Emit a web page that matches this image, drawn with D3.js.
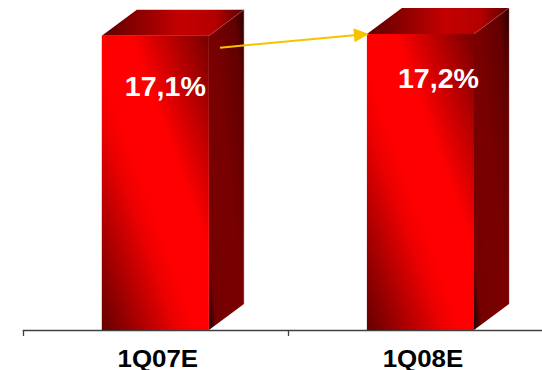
<!DOCTYPE html>
<html>
<head>
<meta charset="utf-8">
<script src="https://cdn.jsdelivr.net/npm/d3@7"></script>
<style>
  html, body { margin: 0; padding: 0; background: #ffffff; }
  svg { display: block; }
</style>
</head>
<body>
<script>
// ---- data ----
const categories = ["1Q07E", "1Q08E"];
const values = [17.1, 17.2];
const valueLabels = ["17,1%", "17,2%"];

// ---- layout ----
const W = 542, H = 370;
const baseY = 330;
const depthX = 35, depthY = -26;

const svg = d3.select("body").append("svg")
  .attr("width", W).attr("height", H);

const x = d3.scaleBand().domain(categories).range([22.8, 553]).padding(0);
const y = d3.scaleLinear().domain([0, 19.17]).range([baseY, 0]);
const barW = x.bandwidth() * 0.404;

const defs = svg.append("defs");
function grad(id, stops) {
  const g = defs.append("linearGradient").attr("id", id)
    .attr("x1", 0).attr("y1", 1).attr("x2", 1).attr("y2", 0);
  stops.forEach(s => g.append("stop").attr("offset", s[0]).attr("stop-color", s[1]));
}
grad("gFront", [[0, "#640000"], [0.36, "#ee0000"], [0.45, "#ff0000"], [0.63, "#ff0000"], [1, "#760000"]]);
grad("gSide", [[0, "#1a0000"], [0.12, "#740000"], [0.5, "#7a0000"], [0.85, "#620000"], [1, "#260000"]]);
const gt = defs.append("linearGradient").attr("id", "gTop")
  .attr("x1", 0).attr("y1", 0).attr("x2", 1).attr("y2", 0);
[[0, "#5e0000"], [0.55, "#c40000"], [0.8, "#b40000"], [1, "#5a0000"]]
  .forEach(s => gt.append("stop").attr("offset", s[0]).attr("stop-color", s[1]));

const data = categories.map((c, i) => ({ c, v: values[i], label: valueLabels[i], i }));

// ---- axis ----
const axis = svg.append("g");
axis.append("line")
  .attr("x1", x.range()[0]).attr("x2", W)
  .attr("y1", baseY + 0.5).attr("y2", baseY + 0.5)
  .attr("stroke", "#404040").attr("stroke-width", 1.3);
categories.forEach(c => {
  const tx = Math.round(x(c)) + 0.5;
  axis.append("line")
    .attr("x1", tx).attr("x2", tx)
    .attr("y1", baseY).attr("y2", baseY + 6)
    .attr("stroke", "#404040").attr("stroke-width", 1.3);
});

// ---- bars ----
const bars = svg.append("g").selectAll("g.bar").data(data).enter().append("g").attr("class", "bar");
bars.each(function(d) {
  const g = d3.select(this);
  const x0 = x(d.c) + (x.bandwidth() - barW) / 2;
  const x1 = x0 + barW;
  const yt = y(d.v);
  // side face
  g.append("path")
    .attr("d", `M${x1},${yt} L${x1 + depthX},${yt + depthY} L${x1 + depthX},${baseY + depthY} L${x1},${baseY} Z`)
    .attr("fill", "url(#gSide)");
  // top face
  g.append("path")
    .attr("d", `M${x0},${yt} L${x0 + depthX},${yt + depthY} L${x1 + depthX},${yt + depthY} L${x1},${yt} Z`)
    .attr("fill", "url(#gTop)");
  // front face
  g.append("rect")
    .attr("x", x0).attr("y", yt).attr("width", barW).attr("height", baseY - yt)
    .attr("fill", "url(#gFront)");
  // subtle light edges
  g.append("line")
    .attr("x1", x1).attr("y1", yt).attr("x2", x1 + depthX).attr("y2", yt + depthY)
    .attr("stroke", "#c05050").attr("stroke-opacity", 0.6).attr("stroke-width", 0.8);
  g.append("line")
    .attr("x1", x1 + depthX).attr("y1", yt + depthY).attr("x2", x1 + depthX).attr("y2", baseY + depthY)
    .attr("stroke", "#b04848").attr("stroke-opacity", 0.5).attr("stroke-width", 0.8);
  // value label
  g.append("text")
    .attr("x", x(d.c) + x.bandwidth() / 2 + 10 + 8 * d.i)
    .attr("y", yt + 60 - 5.5 * d.i)
    .attr("text-anchor", "middle")
    .attr("font-family", "'Liberation Sans', Arial, sans-serif")
    .attr("font-weight", "bold")
    .attr("font-size", 27.5)
    .attr("textLength", 81)
    .attr("lengthAdjust", "spacingAndGlyphs")
    .attr("fill", "#ffffff")
    .text(d.label);
});

// ---- category labels ----
svg.append("g").selectAll("text").data(categories).enter().append("text")
  .attr("x", c => x(c) + x.bandwidth() / 2 + 2.5)
  .attr("y", 366.5)
  .attr("text-anchor", "middle")
  .attr("font-family", "'Liberation Sans', Arial, sans-serif")
  .attr("font-weight", "bold")
  .attr("font-size", 23.5)
  .attr("textLength", 80.6)
  .attr("lengthAdjust", "spacingAndGlyphs")
  .attr("fill", "#000000")
  .text(c => c);

// ---- growth arrow ----
const a0 = data[0], a1 = data[1];
const sx = x(a0.c) + (x.bandwidth() + barW) / 2 + 11;
const sy = y(a0.v) + 12;
const ex = x(a1.c) + (x.bandwidth() - barW) / 2 + 2;
const ey = y(a1.v);
const ang = Math.atan2(ey - sy, ex - sx);
const headL = 15, headW = 7;
const bx = ex - headL * Math.cos(ang), by = ey - headL * Math.sin(ang);
const arrowCol = "#f7c200";
svg.append("line")
  .attr("x1", sx).attr("y1", sy).attr("x2", bx).attr("y2", by)
  .attr("stroke", arrowCol).attr("stroke-width", 2);
svg.append("path")
  .attr("d", `M${ex},${ey} L${bx - headW * Math.sin(ang)},${by + headW * Math.cos(ang)} L${bx + headW * Math.sin(ang)},${by - headW * Math.cos(ang)} Z`)
  .attr("fill", arrowCol);
</script>
</body>
</html>
